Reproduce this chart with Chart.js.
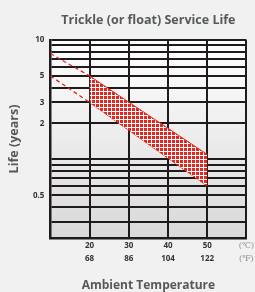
<!DOCTYPE html>
<html>
<head>
<meta charset="utf-8">
<script src="https://cdn.jsdelivr.net/npm/chart.js@4"></script>
<style>
  html, body { margin: 0; padding: 0; background: #f0f1f0; }
  #wrap { width: 255px; height: 292px; }
</style>
</head>
<body>
<div id="wrap"><canvas id="lifeChart"></canvas></div>
<script>
// ambient temperature, °C with matching °F
const tempC = [10, 20, 30, 40, 50, 60];
const tempF = [50, 68, 86, 104, 122, 140];
// life (years) grid lines and the few that get a label
const yGrid = [10, 9, 8, 7, 6, 5, 4, 3, 2, 1, 0.9, 0.8, 0.7, 0.6, 0.5, 0.4, 0.3];
const yLabels = [10, 5, 3, 2, 0.5];
// hatched band (20-50 °C)
const bandTemp = [20, 50];
const bandUpper = [5, 1.1];
const bandLower = [3, 0.6];
// dashed extension below 20 °C
const dashTemp = [10, 20];
const dashUpper = [7.7, 5];
const dashLower = [5, 3];

const RED = '#e3261e';
const GRID = '#1f1b1c';

function hatch() {
  const c = document.createElement('canvas');
  c.width = 4; c.height = 4;
  const g = c.getContext('2d');
  g.fillStyle = '#ffffff';
  g.fillRect(0, 0, 4, 4);
  g.fillStyle = RED;
  g.fillRect(0, 0, 3, 3);
  return g.createPattern(c, 'repeat');
}

const pts = (xs, ys) => xs.map((x, i) => ({x: x, y: ys[i]}));

const plotBg = {
  id: 'plotBg',
  beforeDraw(chart) {
    const {ctx, chartArea: a} = chart;
    const g = ctx.createLinearGradient(0, a.top, 0, a.bottom);
    g.addColorStop(0, '#ffffff');
    g.addColorStop(1, '#d9d9d9');
    ctx.save();
    ctx.fillStyle = g;
    ctx.fillRect(a.left, a.top, a.width, a.height);
    ctx.restore();
  }
};

const ctx = document.getElementById('lifeChart');
const lifeChart = new Chart(ctx, {
  type: 'line',
  data: {
    datasets: [
      {
        data: pts(bandTemp, bandUpper),
        borderColor: RED,
        borderWidth: 1,
        backgroundColor: hatch(),
        fill: '+1',
        pointRadius: 0
      },
      {
        data: pts(bandTemp, bandLower),
        borderColor: RED,
        borderWidth: 1,
        fill: false,
        pointRadius: 0
      },
      {
        data: pts(dashTemp, dashUpper),
        borderColor: RED,
        borderWidth: 1.3,
        borderDash: [4, 3],
        fill: false,
        pointRadius: 0
      },
      {
        data: pts(dashTemp, dashLower),
        borderColor: RED,
        borderWidth: 1.3,
        borderDash: [4, 3],
        fill: false,
        pointRadius: 0
      }
    ]
  },
  options: {
    responsive: true,
    maintainAspectRatio: false,
    animation: false,
    layout: { padding: { left: 0, right: 8, top: 0, bottom: 0 } },
    plugins: {
      legend: { display: false },
      tooltip: { enabled: false },
      title: {
        display: true,
        fullSize: false,
        text: 'Trickle (or float) Service Life',
        color: '#55595b',
        font: { family: 'Open Sans', size: 12.5, weight: 'bold', lineHeight: 1.2 },
        padding: { top: 13, bottom: 12 }
      }
    },
    scales: {
      x: {
        type: 'linear',
        min: 10,
        max: 60,
        afterBuildTicks: axis => { axis.ticks = tempC.map(v => ({value: v})); },
        grid: { color: GRID, lineWidth: 2, drawTicks: false },
        border: { color: GRID, width: 2.5 },
        ticks: {
          autoSkip: false,
          maxRotation: 0,
          padding: 1,
          color: ctx => ctx.tick && ctx.tick.value === 60 ? '#8a8a8a' : '#333333',
          font: ctx => ctx.tick && ctx.tick.value === 60
            ? { family: 'DejaVu Serif', size: 8, lineHeight: '13px' }
            : { family: 'Open Sans', size: 8, weight: 'bold', lineHeight: '13px' },
          callback: function (value) {
            if (value === 60) return ['(\u2103)', '(\u2109)'];
            const i = tempC.indexOf(value);
            if (i <= 0) return '';
            return [String(tempC[i]), String(tempF[i])];
          }
        },
        title: {
          display: true,
          text: 'Ambient Temperature',
          color: '#55595b',
          font: { family: 'Open Sans', size: 12, weight: 'bold', lineHeight: 1 },
          padding: { top: 14, bottom: 0 }
        }
      },
      y: {
        type: 'logarithmic',
        min: 0.22,
        max: 10,
        afterBuildTicks: axis => { axis.ticks = yGrid.map(v => ({value: v})); },
        grid: { color: GRID, lineWidth: 2, drawTicks: false },
        border: { color: GRID, width: 2.5 },
        ticks: {
          autoSkip: false,
          padding: 6,
          color: '#333333',
          font: { family: 'Open Sans', size: 8, weight: 'bold' },
          callback: function (value) {
            return yLabels.includes(value) ? String(value) : '';
          }
        },
        title: {
          display: true,
          text: 'Life (years)',
          color: '#55595b',
          font: { family: 'Open Sans', size: 12.5, weight: 'bold', lineHeight: 1.2 },
          padding: { top: 7, bottom: 5 }
        }
      }
    }
  },
  plugins: [plotBg]
});
</script>
</body>
</html>
